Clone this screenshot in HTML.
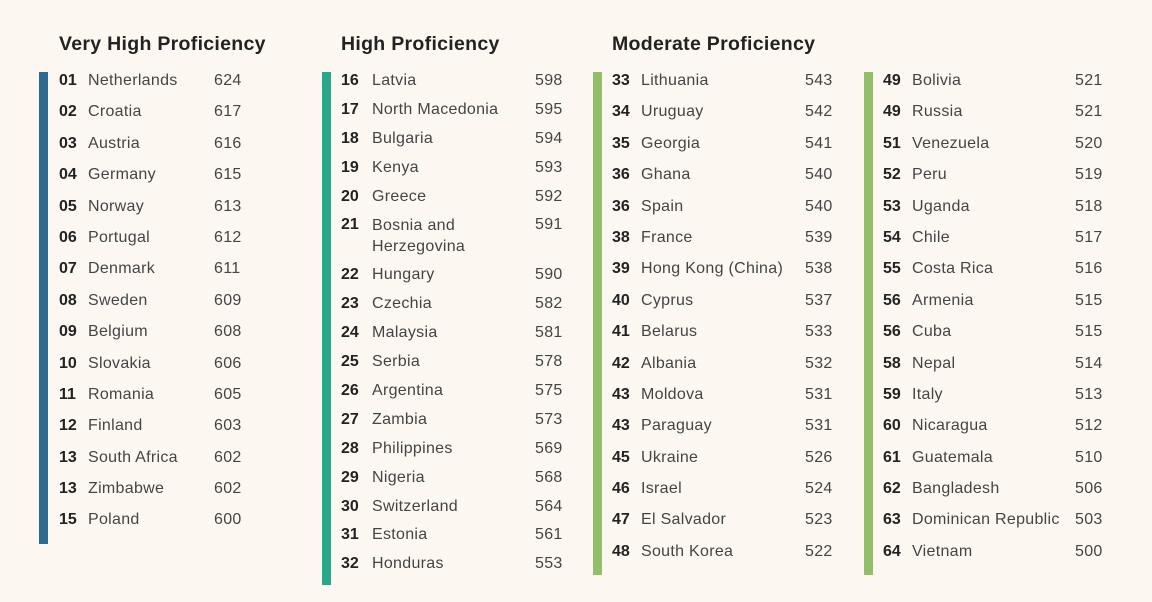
<!DOCTYPE html>
<html><head><meta charset="utf-8"><style>
body{margin:0;width:1152px;height:602px;background:#fcf8f1;position:relative;overflow:hidden;font-family:"Liberation Sans",sans-serif;color:#2a2a2a}
.h{position:absolute;top:33px;font-size:19.5px;font-weight:bold;letter-spacing:0.3px;color:#222;white-space:nowrap}
.bar{position:absolute;width:9px;top:72px}
.col{position:absolute;top:71px}
.r{position:relative;height:31.4px;font-size:16px;line-height:20px;letter-spacing:0.3px;white-space:nowrap}
.c2 .r{height:28.9px}
.r b{position:absolute;left:0;font-weight:bold;color:#222;letter-spacing:0}
.r span{position:absolute;color:#444}
.r i{position:absolute;font-style:normal;color:#444}
</style></head><body>
<div class="h" style="left:59px">Very High Proficiency</div>
<div class="h" style="left:341px">High Proficiency</div>
<div class="h" style="left:612px">Moderate Proficiency</div>
<div class="bar" style="left:39px;height:472px;background:#2f6a8f"></div>
<div class="bar" style="left:322px;height:513px;background:#2aa88c"></div>
<div class="bar" style="left:593px;height:503px;background:#94bf6a"></div>
<div class="bar" style="left:864px;height:503px;background:#94bf6a"></div>

<div class="col c1" style="left:59px">
<div class="r"><b>01</b><span style="left:29px">Netherlands</span><i style="left:155px">624</i></div>
<div class="r"><b>02</b><span style="left:29px">Croatia</span><i style="left:155px">617</i></div>
<div class="r"><b>03</b><span style="left:29px">Austria</span><i style="left:155px">616</i></div>
<div class="r"><b>04</b><span style="left:29px">Germany</span><i style="left:155px">615</i></div>
<div class="r"><b>05</b><span style="left:29px">Norway</span><i style="left:155px">613</i></div>
<div class="r"><b>06</b><span style="left:29px">Portugal</span><i style="left:155px">612</i></div>
<div class="r"><b>07</b><span style="left:29px">Denmark</span><i style="left:155px">611</i></div>
<div class="r"><b>08</b><span style="left:29px">Sweden</span><i style="left:155px">609</i></div>
<div class="r"><b>09</b><span style="left:29px">Belgium</span><i style="left:155px">608</i></div>
<div class="r"><b>10</b><span style="left:29px">Slovakia</span><i style="left:155px">606</i></div>
<div class="r"><b>11</b><span style="left:29px">Romania</span><i style="left:155px">605</i></div>
<div class="r"><b>12</b><span style="left:29px">Finland</span><i style="left:155px">603</i></div>
<div class="r"><b>13</b><span style="left:29px">South Africa</span><i style="left:155px">602</i></div>
<div class="r"><b>13</b><span style="left:29px">Zimbabwe</span><i style="left:155px">602</i></div>
<div class="r"><b>15</b><span style="left:29px">Poland</span><i style="left:155px">600</i></div>
</div>

<div class="col c2" style="left:341px">
<div class="r"><b>16</b><span style="left:31px">Latvia</span><i style="left:194px">598</i></div>
<div class="r"><b>17</b><span style="left:31px">North Macedonia</span><i style="left:194px">595</i></div>
<div class="r"><b>18</b><span style="left:31px">Bulgaria</span><i style="left:194px">594</i></div>
<div class="r"><b>19</b><span style="left:31px">Kenya</span><i style="left:194px">593</i></div>
<div class="r"><b>20</b><span style="left:31px">Greece</span><i style="left:194px">592</i></div>
<div class="r" style="height:50px"><b>21</b><span style="left:31px;line-height:21px">Bosnia and<br>Herzegovina</span><i style="left:194px">591</i></div>
<div class="r"><b>22</b><span style="left:31px">Hungary</span><i style="left:194px">590</i></div>
<div class="r"><b>23</b><span style="left:31px">Czechia</span><i style="left:194px">582</i></div>
<div class="r"><b>24</b><span style="left:31px">Malaysia</span><i style="left:194px">581</i></div>
<div class="r"><b>25</b><span style="left:31px">Serbia</span><i style="left:194px">578</i></div>
<div class="r"><b>26</b><span style="left:31px">Argentina</span><i style="left:194px">575</i></div>
<div class="r"><b>27</b><span style="left:31px">Zambia</span><i style="left:194px">573</i></div>
<div class="r"><b>28</b><span style="left:31px">Philippines</span><i style="left:194px">569</i></div>
<div class="r"><b>29</b><span style="left:31px">Nigeria</span><i style="left:194px">568</i></div>
<div class="r"><b>30</b><span style="left:31px">Switzerland</span><i style="left:194px">564</i></div>
<div class="r"><b>31</b><span style="left:31px">Estonia</span><i style="left:194px">561</i></div>
<div class="r"><b>32</b><span style="left:31px">Honduras</span><i style="left:194px">553</i></div>
</div>

<div class="col c3" style="left:612px">
<div class="r"><b>33</b><span style="left:29px">Lithuania</span><i style="left:193px">543</i></div>
<div class="r"><b>34</b><span style="left:29px">Uruguay</span><i style="left:193px">542</i></div>
<div class="r"><b>35</b><span style="left:29px">Georgia</span><i style="left:193px">541</i></div>
<div class="r"><b>36</b><span style="left:29px">Ghana</span><i style="left:193px">540</i></div>
<div class="r"><b>36</b><span style="left:29px">Spain</span><i style="left:193px">540</i></div>
<div class="r"><b>38</b><span style="left:29px">France</span><i style="left:193px">539</i></div>
<div class="r"><b>39</b><span style="left:29px">Hong Kong (China)</span><i style="left:193px">538</i></div>
<div class="r"><b>40</b><span style="left:29px">Cyprus</span><i style="left:193px">537</i></div>
<div class="r"><b>41</b><span style="left:29px">Belarus</span><i style="left:193px">533</i></div>
<div class="r"><b>42</b><span style="left:29px">Albania</span><i style="left:193px">532</i></div>
<div class="r"><b>43</b><span style="left:29px">Moldova</span><i style="left:193px">531</i></div>
<div class="r"><b>43</b><span style="left:29px">Paraguay</span><i style="left:193px">531</i></div>
<div class="r"><b>45</b><span style="left:29px">Ukraine</span><i style="left:193px">526</i></div>
<div class="r"><b>46</b><span style="left:29px">Israel</span><i style="left:193px">524</i></div>
<div class="r"><b>47</b><span style="left:29px">El Salvador</span><i style="left:193px">523</i></div>
<div class="r"><b>48</b><span style="left:29px">South Korea</span><i style="left:193px">522</i></div>
</div>

<div class="col c4" style="left:883px">
<div class="r"><b>49</b><span style="left:29px">Bolivia</span><i style="left:192px">521</i></div>
<div class="r"><b>49</b><span style="left:29px">Russia</span><i style="left:192px">521</i></div>
<div class="r"><b>51</b><span style="left:29px">Venezuela</span><i style="left:192px">520</i></div>
<div class="r"><b>52</b><span style="left:29px">Peru</span><i style="left:192px">519</i></div>
<div class="r"><b>53</b><span style="left:29px">Uganda</span><i style="left:192px">518</i></div>
<div class="r"><b>54</b><span style="left:29px">Chile</span><i style="left:192px">517</i></div>
<div class="r"><b>55</b><span style="left:29px">Costa Rica</span><i style="left:192px">516</i></div>
<div class="r"><b>56</b><span style="left:29px">Armenia</span><i style="left:192px">515</i></div>
<div class="r"><b>56</b><span style="left:29px">Cuba</span><i style="left:192px">515</i></div>
<div class="r"><b>58</b><span style="left:29px">Nepal</span><i style="left:192px">514</i></div>
<div class="r"><b>59</b><span style="left:29px">Italy</span><i style="left:192px">513</i></div>
<div class="r"><b>60</b><span style="left:29px">Nicaragua</span><i style="left:192px">512</i></div>
<div class="r"><b>61</b><span style="left:29px">Guatemala</span><i style="left:192px">510</i></div>
<div class="r"><b>62</b><span style="left:29px">Bangladesh</span><i style="left:192px">506</i></div>
<div class="r"><b>63</b><span style="left:29px">Dominican Republic</span><i style="left:192px">503</i></div>
<div class="r"><b>64</b><span style="left:29px">Vietnam</span><i style="left:192px">500</i></div>
</div>
</body></html>
